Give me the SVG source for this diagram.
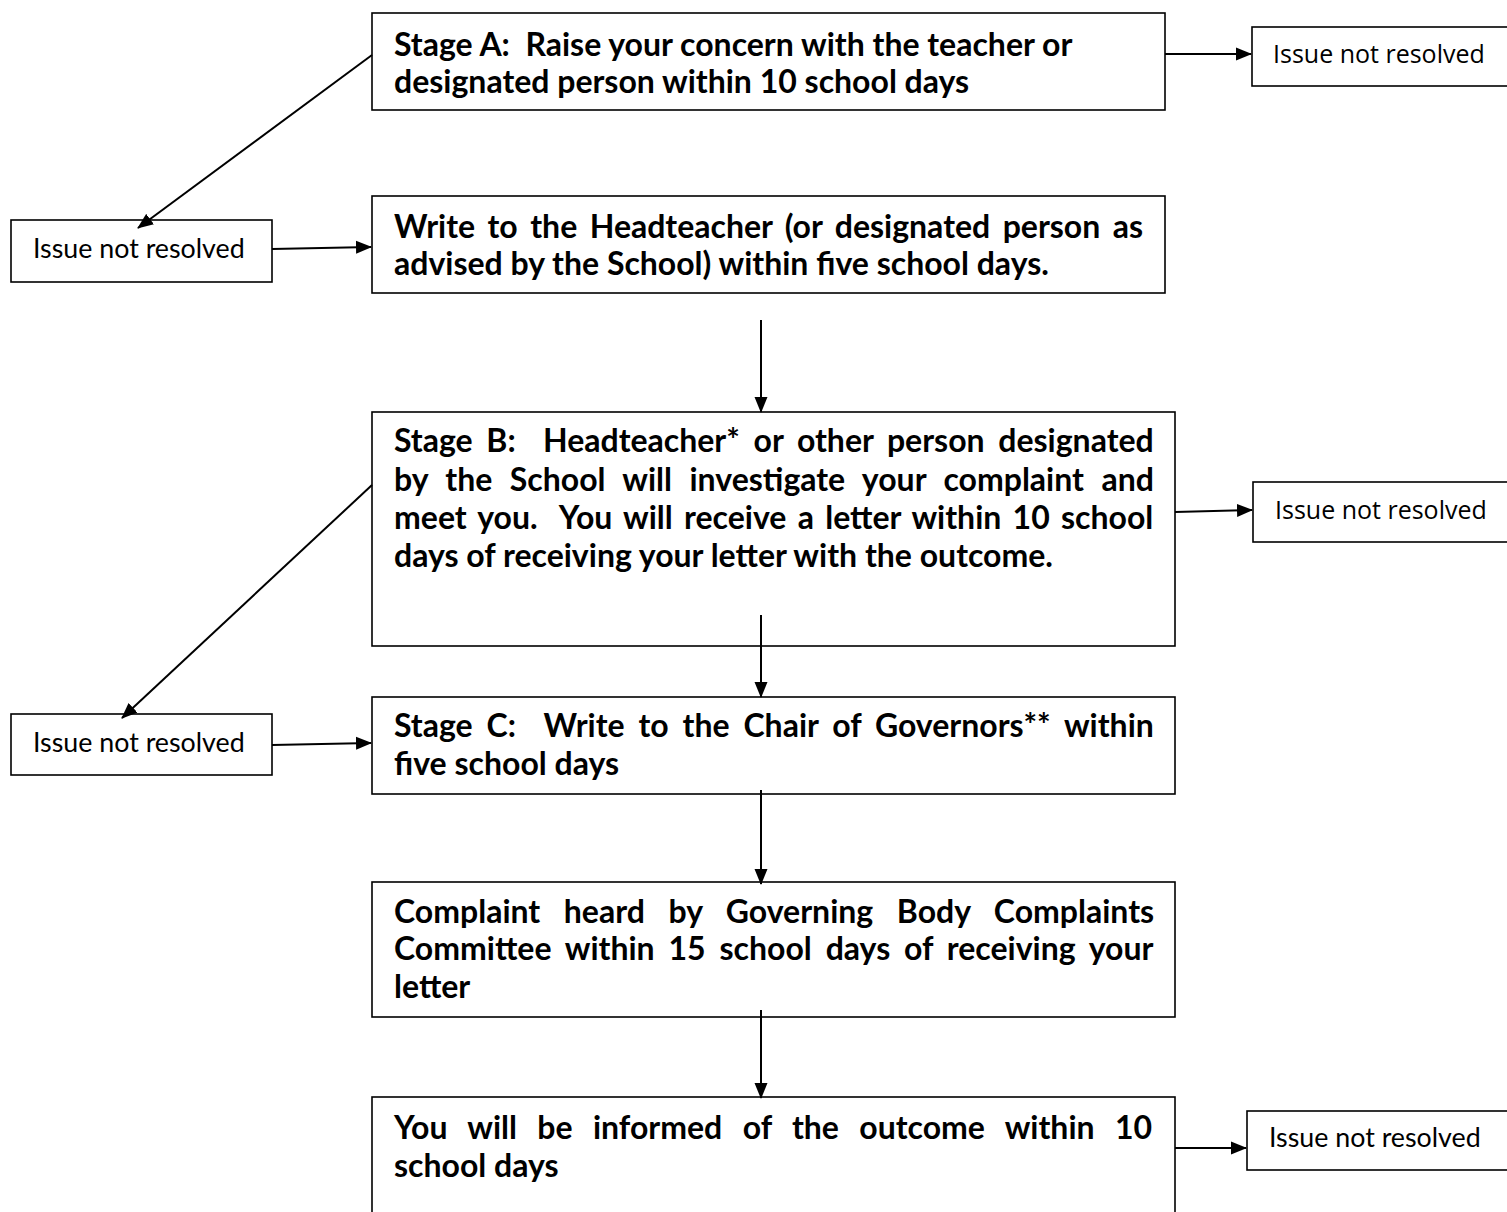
<svg xmlns="http://www.w3.org/2000/svg" width="1507" height="1212" viewBox="0 0 1507 1212">
<style>
.box{fill:#fff;stroke:#000;stroke-width:1.6}
.main{font-family:Lato,"Liberation Sans",sans-serif;font-weight:bold;font-size:32px;fill:#000;white-space:pre}
.side{font-family:Lato,"Liberation Sans",sans-serif;font-size:26.8px;fill:#000}
.side2{font-family:"Open Sans","Noto Sans",sans-serif;font-size:25px;fill:#000}
.con{stroke:#000;stroke-width:2;fill:none}
</style>
<defs>
<marker id="ah" markerUnits="userSpaceOnUse" markerWidth="16" markerHeight="14" refX="15" refY="7" orient="auto">
<path d="M0,0.5 L16,7 L0,13.5 Z" fill="#000"/>
</marker>
</defs>
<rect width="1507" height="1212" fill="#fff"/>
<g id="stageA">
<rect class="box" x="372" y="13" width="793" height="97"/>
<text class="main" x="394" y="56">Stage A:  Raise your concern with the teacher or</text>
<text class="main" x="394" y="93">designated person within 10 school days</text>
</g>
<g id="nr1">
<rect class="box" x="1252" y="27" width="260" height="59"/>
<text class="side2" x="1273" y="63">Issue not resolved</text>
</g>
<g id="nl1">
<rect class="box" x="11" y="220" width="261" height="62"/>
<text class="side" x="33" y="258">Issue not resolved</text>
</g>
<g id="write">
<rect class="box" x="372" y="196" width="793" height="97"/>
<text class="main" x="394" y="238" style="word-spacing:4.7px">Write to the Headteacher (or designated person as</text>
<text class="main" x="394" y="275">advised by the School) within five school days.</text>
</g>
<g id="stageB">
<rect class="box" x="372" y="412" width="803" height="234"/>
<text class="main" x="394" y="452" style="word-spacing:5.9px">Stage B:  Headteacher* or other person designated</text>
<text class="main" x="394" y="491" style="word-spacing:9.7px">by the School will investigate your complaint and</text>
<text class="main" x="394" y="529" style="word-spacing:3.5px">meet you.  You will receive a letter within 10 school</text>
<text class="main" x="394" y="567">days of receiving your letter with the outcome.</text>
</g>
<g id="nr2">
<rect class="box" x="1253" y="482" width="259" height="60"/>
<text class="side2" x="1275" y="519">Issue not resolved</text>
</g>
<g id="nl2">
<rect class="box" x="11" y="714" width="261" height="61"/>
<text class="side" x="33" y="752">Issue not resolved</text>
</g>
<g id="stageC">
<rect class="box" x="372" y="697" width="803" height="97"/>
<text class="main" x="394" y="737" style="word-spacing:6.1px">Stage C:  Write to the Chair of Governors** within</text>
<text class="main" x="394" y="775">five school days</text>
</g>
<g id="committee">
<rect class="box" x="372" y="882" width="803" height="135"/>
<text class="main" x="394" y="923" style="word-spacing:15.8px">Complaint heard by Governing Body Complaints</text>
<text class="main" x="394" y="960" style="word-spacing:6.1px">Committee within 15 school days of receiving your</text>
<text class="main" x="394" y="998">letter</text>
</g>
<g id="outcome">
<rect class="box" x="372" y="1097" width="803" height="130"/>
<text class="main" x="394" y="1139" style="word-spacing:12.6px">You will be informed of the outcome within 10</text>
<text class="main" x="394" y="1177">school days</text>
</g>
<g id="nr3">
<rect class="box" x="1247" y="1111" width="265" height="59"/>
<text class="side" x="1269" y="1147">Issue not resolved</text>
</g>
<g id="connectors">
<line class="con" x1="1165" y1="54" x2="1251" y2="54" marker-end="url(#ah)"/>
<line class="con" x1="372" y1="55" x2="138" y2="228" marker-end="url(#ah)"/>
<line class="con" x1="272" y1="249" x2="371" y2="247" marker-end="url(#ah)"/>
<line class="con" x1="761" y1="320" x2="761" y2="412" marker-end="url(#ah)"/>
<line class="con" x1="1175" y1="512" x2="1252" y2="510" marker-end="url(#ah)"/>
<line class="con" x1="372" y1="485" x2="122" y2="718" marker-end="url(#ah)"/>
<line class="con" x1="272" y1="745" x2="371" y2="743" marker-end="url(#ah)"/>
<line class="con" x1="761" y1="615" x2="761" y2="697" marker-end="url(#ah)"/>
<line class="con" x1="761" y1="790" x2="761" y2="884" marker-end="url(#ah)"/>
<line class="con" x1="761" y1="1010" x2="761" y2="1098" marker-end="url(#ah)"/>
<line class="con" x1="1175" y1="1148" x2="1246" y2="1148" marker-end="url(#ah)"/>
</g>
</svg>
